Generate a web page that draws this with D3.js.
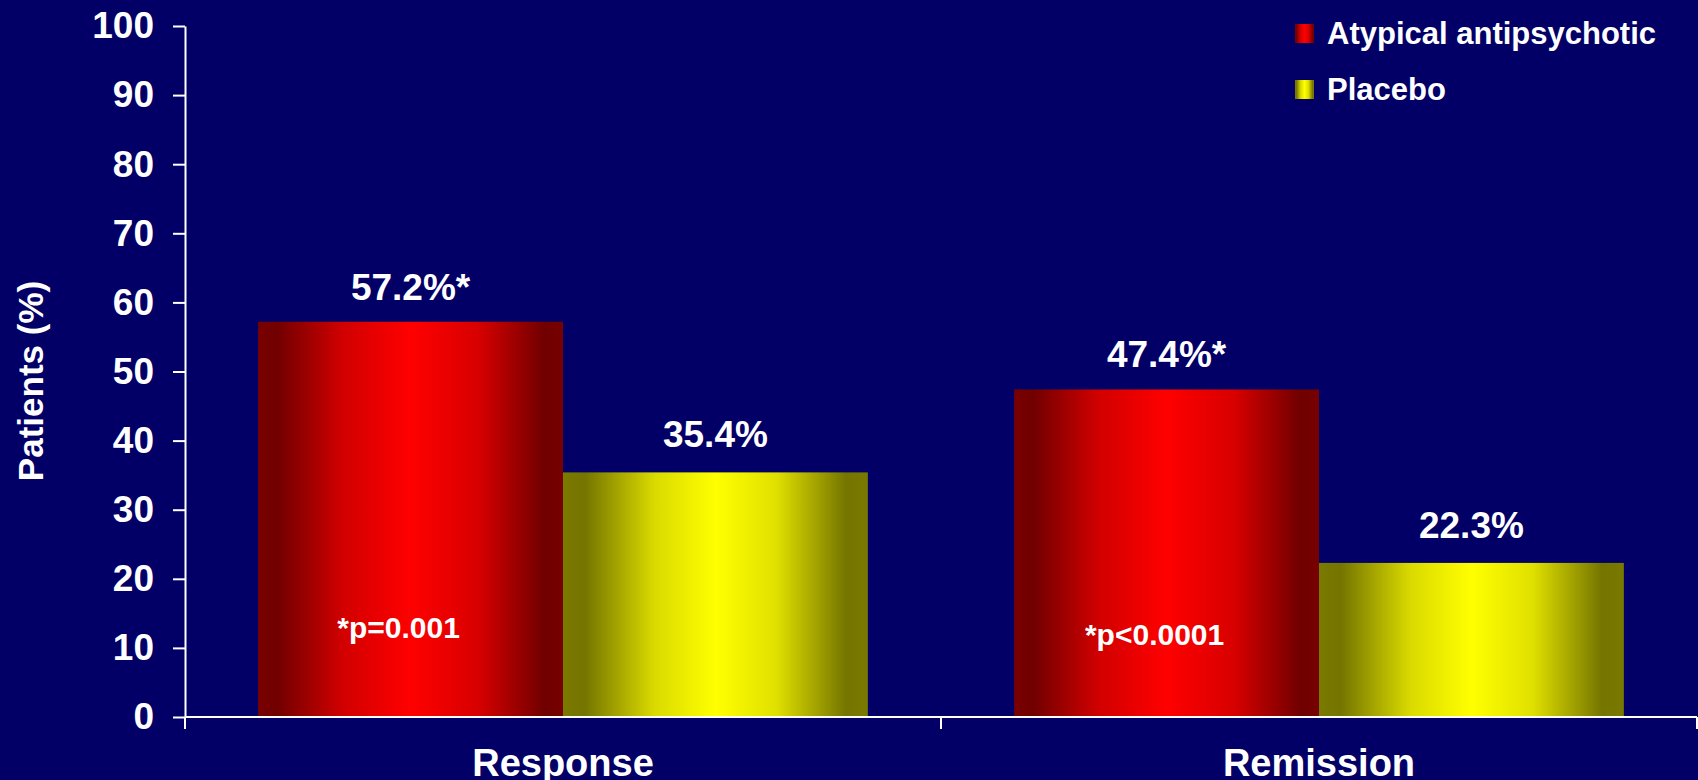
<!DOCTYPE html>
<html>
<head>
<meta charset="utf-8">
<script src="https://cdn.jsdelivr.net/npm/d3@7/dist/d3.min.js"></script>
<style>
  html, body { margin: 0; padding: 0; background: #020066; }
  svg { display: block; }
  text { font-family: "Liberation Sans", Arial, sans-serif; font-weight: bold; fill: #ffffff; }
</style>
</head>
<body>
<svg id="chart" width="1698" height="780"></svg>
<script>
// Outcome categories and treatment series
const categories = ["Response", "Remission"];
const seriesNames = ["Atypical antipsychotic", "Placebo"];
const atypicalValues = [57.2, 47.4];
const placeboValues = [35.4, 22.3];
const valueLabels = [["57.2%*", "35.4%"], ["47.4%*", "22.3%"]];
const pValueNotes = ["*p=0.001", "*p<0.0001"];
const yTicks = [0, 10, 20, 30, 40, 50, 60, 70, 80, 90, 100];

const W = 1698, H = 780;
const plotLeft = 185, plotRight = 1697, plotTop = 26, plotBottom = 717;

const svg = d3.select("#chart");
svg.append("rect").attr("width", W).attr("height", H).attr("fill", "#020066");

// Horizontal shaded fills for the bars
const defs = svg.append("defs");
const gradients = [
  { id: "gradRed", stops: [[0, "#7a0000"], [0.06, "#700000"], [0.28, "#d20000"], [0.5, "#ff0000"], [0.72, "#d80000"], [0.94, "#700000"], [1, "#780000"]] },
  { id: "gradYellow", stops: [[0, "#7a7a00"], [0.07, "#747400"], [0.3, "#dada00"], [0.5, "#ffff00"], [0.7, "#e0e000"], [0.93, "#747400"], [1, "#7a7a00"]] }
];
gradients.forEach(g => {
  const lg = defs.append("linearGradient").attr("id", g.id)
    .attr("x1", "0%").attr("x2", "100%").attr("y1", "0%").attr("y2", "0%");
  g.stops.forEach(s => lg.append("stop").attr("offset", s[0]).attr("stop-color", s[1]));
});
const fills = ["url(#gradRed)", "url(#gradYellow)"];

// Scales
const y = d3.scaleLinear().domain([0, 100]).range([plotBottom, plotTop]);
const x0 = d3.scaleBand().domain(categories).range([plotLeft, plotRight]).paddingInner(0).paddingOuter(0);
const x1 = d3.scaleBand().domain(seriesNames).range([0, x0.bandwidth()]).paddingInner(0).paddingOuter(0.24);

const rows = categories.map((c, i) => ({
  category: c,
  values: [atypicalValues[i], placeboValues[i]],
  labels: valueLabels[i],
  note: pValueNotes[i]
}));

// Bars
const groups = svg.selectAll("g.group").data(rows).enter().append("g")
  .attr("class", "group")
  .attr("transform", d => `translate(${x0(d.category)},0)`);

const barData = d => d.values.map((v, j) => ({ v, j, s: seriesNames[j], label: d.labels[j] }));

groups.selectAll("rect").data(barData)
  .enter().append("rect")
  .attr("x", d => x1(d.s))
  .attr("width", x1.bandwidth())
  .attr("y", d => y(d.v))
  .attr("height", d => y(0) - y(d.v))
  .attr("fill", d => fills[d.j]);

// Value labels above bars
groups.selectAll("text.val").data(barData)
  .enter().append("text")
  .attr("class", "val")
  .attr("x", d => x1(d.s) + x1.bandwidth() / 2)
  .attr("y", d => y(d.v) - (d.j === 0 ? 22 : 25))
  .attr("text-anchor", "middle")
  .attr("font-size", 37)
  .text(d => d.label);

// Significance notes inside the treatment bars
const noteBaselines = [638, 645];
groups.append("text")
  .attr("x", x1(seriesNames[0]) + x1.bandwidth() / 2 - 12)
  .attr("y", (d, i) => noteBaselines[i])
  .attr("text-anchor", "middle")
  .attr("font-size", 30)
  .text(d => d.note);

// Y axis
const yAxis = d3.axisLeft(y).tickValues(yTicks).tickSize(12).tickSizeOuter(0).tickPadding(19);
const gy = svg.append("g").attr("transform", `translate(${plotLeft},0)`).call(yAxis);
gy.select(".domain").attr("stroke", "#ffffff").attr("stroke-width", 2);
gy.selectAll(".tick line").attr("stroke", "#ffffff").attr("stroke-width", 2);
gy.selectAll(".tick text").attr("font-size", 37).attr("fill", "#ffffff")
  .attr("font-family", "Liberation Sans, Arial, sans-serif").attr("font-weight", "bold");

// X axis: baseline, category boundary ticks, category labels
const gx = svg.append("g");
gx.append("line").attr("x1", plotLeft).attr("x2", plotRight).attr("y1", y(0)).attr("y2", y(0))
  .attr("stroke", "#ffffff").attr("stroke-width", 2);
const boundaries = categories.map(c => x0(c)).concat([x0(categories[categories.length - 1]) + x0.bandwidth()]);
gx.selectAll("line.bt").data(boundaries).enter().append("line")
  .attr("class", "bt")
  .attr("x1", d => d).attr("x2", d => d)
  .attr("y1", y(0)).attr("y2", y(0) + 12)
  .attr("stroke", "#ffffff").attr("stroke-width", 2);
gx.selectAll("text").data(categories).enter().append("text")
  .attr("x", d => x0(d) + x0.bandwidth() / 2)
  .attr("y", 776)
  .attr("text-anchor", "middle")
  .attr("font-size", 38)
  .text(d => d);

// Y axis title
svg.append("text")
  .attr("transform", "translate(43,381) rotate(-90)")
  .attr("text-anchor", "middle")
  .attr("font-size", 35)
  .text("Patients (%)");

// Legend
const legend = svg.append("g").attr("transform", "translate(1295,24)");
seriesNames.forEach((name, i) => {
  const row = legend.append("g").attr("transform", `translate(0,${i * 56})`);
  row.append("rect").attr("width", 19).attr("height", 19).attr("fill", fills[i]);
  row.append("text").attr("x", 32).attr("y", 20).attr("font-size", 31).text(name);
});
</script>
</body>
</html>
